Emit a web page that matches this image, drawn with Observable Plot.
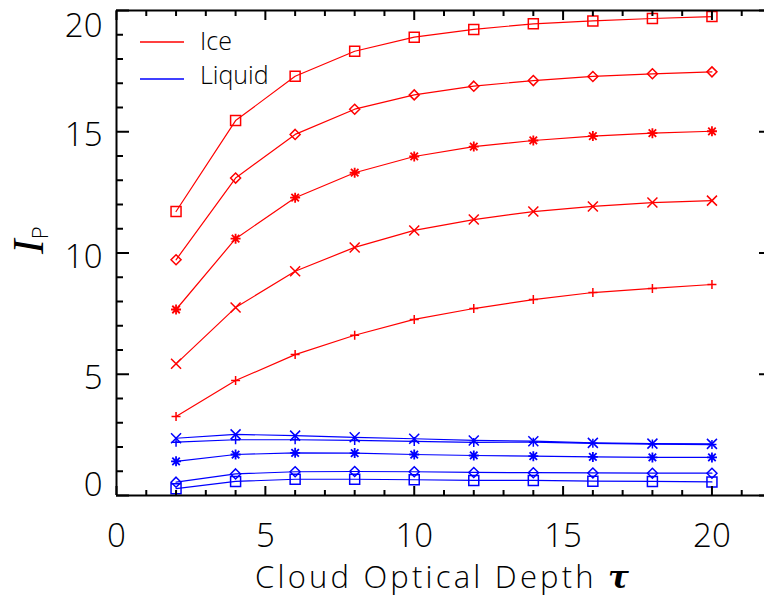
<!DOCTYPE html>
<html><head><meta charset="utf-8">
<script src="https://cdn.jsdelivr.net/npm/d3@7"></script>
<script src="https://cdn.jsdelivr.net/npm/@observablehq/plot@0.6"></script>
<style>
body{margin:0;background:#fff;}
#wrap{position:relative;width:764px;height:599px;overflow:hidden;}
</style></head><body><div id="wrap"></div>
<script>
// ---- data ----
const tau = [2, 4, 6, 8, 10, 12, 14, 16, 18, 20];
const iceSquare   = [11.71, 15.46, 17.29, 18.32, 18.90, 19.22, 19.45, 19.57, 19.67, 19.75];
const iceDiamond  = [9.72, 13.09, 14.89, 15.93, 16.52, 16.88, 17.11, 17.28, 17.39, 17.47];
const iceAsterisk = [7.67, 10.59, 12.28, 13.31, 13.98, 14.39, 14.64, 14.82, 14.94, 15.02];
const iceX        = [5.43, 7.75, 9.25, 10.23, 10.93, 11.38, 11.71, 11.92, 12.08, 12.16];
const icePlus     = [3.26, 4.74, 5.81, 6.61, 7.26, 7.71, 8.08, 8.37, 8.54, 8.70];
const liqX        = [2.36, 2.52, 2.47, 2.40, 2.34, 2.27, 2.24, 2.17, 2.14, 2.13];
const liqPlus     = [2.20, 2.30, 2.30, 2.27, 2.23, 2.19, 2.20, 2.15, 2.12, 2.10];
const liqAsterisk = [1.41, 1.69, 1.76, 1.75, 1.69, 1.65, 1.62, 1.59, 1.57, 1.57];
const liqDiamond  = [0.55, 0.89, 0.98, 0.99, 0.98, 0.95, 0.94, 0.93, 0.92, 0.92];
const liqSquare   = [0.28, 0.58, 0.67, 0.67, 0.65, 0.62, 0.62, 0.59, 0.58, 0.56];
const xMajor = [0, 5, 10, 15, 20];
const xMinor = [1,2,3,4,6,7,8,9,11,12,13,14,16,17,18,19,21];
const yMajor = [0, 5, 10, 15, 20];
const yMinor = [1,2,3,4,6,7,8,9,11,12,13,14,16,17,18,19];
const legendLabels = ["Ice", "Liquid"];
const legendColors = ["#ff0000", "#0000ff"];
const xTitle = "Cloud Optical Depth";
const xTitleSymbol = "\u03c4";
const yTitle = "I";
const yTitleSub = "P";

// ---- symbols (IDL-like) ----
const hs = s => Math.sqrt(s / Math.PI);
const sym = {
  square: {draw(c, s) { const h = hs(s); c.moveTo(-h,-h); c.lineTo(h,-h); c.lineTo(h,h); c.lineTo(-h,h); c.closePath(); }},
  diamond: {draw(c, s) { const h = hs(s); c.moveTo(0,-h); c.lineTo(h,0); c.lineTo(0,h); c.lineTo(-h,0); c.closePath(); }},
  plus: {draw(c, s) { const h = hs(s); c.moveTo(-h,0); c.lineTo(h,0); c.moveTo(0,-h); c.lineTo(0,h); }},
  times: {draw(c, s) { const h = hs(s); c.moveTo(-h,-h); c.lineTo(h,h); c.moveTo(-h,h); c.lineTo(h,-h); }},
  asterisk: {draw(c, s) { const h = hs(s), d = h * 0.75; c.moveTo(-h,0); c.lineTo(h,0); c.moveTo(0,-h); c.lineTo(0,h); c.moveTo(-d,-d); c.lineTo(d,d); c.moveTo(-d,d); c.lineTo(d,-d); }}
};

const seriesList = [
  {values: iceSquare, marker: "square", r: 5, color: legendColors[0]},
  {values: iceDiamond, marker: "diamond", r: 5, color: legendColors[0]},
  {values: iceAsterisk, marker: "asterisk", r: 5, color: legendColors[0]},
  {values: iceX, marker: "times", r: 5, color: legendColors[0]},
  {values: icePlus, marker: "plus", r: 4.5, color: legendColors[0]},
  {values: liqX, marker: "times", r: 5, color: legendColors[1]},
  {values: liqPlus, marker: "plus", r: 4.5, color: legendColors[1]},
  {values: liqAsterisk, marker: "asterisk", r: 5, color: legendColors[1]},
  {values: liqDiamond, marker: "diamond", r: 5, color: legendColors[1]},
  {values: liqSquare, marker: "square", r: 5, color: legendColors[1]}
];

const FONT = "'Open Sans', sans-serif";
const dataMarks = seriesList.flatMap(s => {
  const rows = tau.map((t, i) => ({tau: t, v: s.values[i]}));
  return [
    Plot.line(rows, {x: "tau", y: "v", stroke: s.color, strokeWidth: 1.2}),
    Plot.dot(rows, {x: "tau", y: "v", symbol: sym[s.marker], r: s.r, stroke: s.color, fill: "none", strokeWidth: s.marker === "asterisk" ? 1.8 : 1.5})
  ];
});

const plot = Plot.plot({
  width: 764, height: 599,
  marginLeft: 116, marginRight: -7, marginTop: 10, marginBottom: 104,
  x: {domain: [0, 22]},
  y: {domain: [0, 20]},
  style: {fontFamily: FONT, fontSize: "33px", color: "black", background: "white"},
  marks: [
    ...dataMarks,
    Plot.ruleX([0, 22], {strokeWidth: 2}),
    Plot.ruleY([0, 20], {strokeWidth: 2}),
    Plot.axisX(xMajor, {anchor: "bottom", tickSize: -9, fill: "none", strokeWidth: 2}),
    Plot.axisX(xMinor, {anchor: "bottom", tickSize: -5, fill: "none", strokeWidth: 2}),
    Plot.axisX(xMajor, {anchor: "top", tickSize: -9, fill: "none", strokeWidth: 2}),
    Plot.axisX(xMinor, {anchor: "top", tickSize: -5, fill: "none", strokeWidth: 2}),
    Plot.axisY(yMajor, {anchor: "left", tickSize: -13, fill: "none", strokeWidth: 2}),
    Plot.axisY(yMinor, {anchor: "left", tickSize: -7, fill: "none", strokeWidth: 2}),
    Plot.axisY(yMajor, {anchor: "right", tickSize: -13, fill: "none", strokeWidth: 2}),
    Plot.axisY(yMinor, {anchor: "right", tickSize: -7, fill: "none", strokeWidth: 2}),
    Plot.axisX(xMajor, {anchor: "bottom", tickSize: 0, tickPadding: 28, label: null, fontSize: 33, fontWeight: 300}),
    Plot.axisY(yMajor.filter(d => d > 0 && d < 20), {anchor: "left", tickSize: 0, tickPadding: 14, dy: 4, label: null, fontSize: 33, fontWeight: 300}),
    Plot.axisY([20], {anchor: "left", tickSize: 0, tickPadding: 14, dy: 16, label: null, fontSize: 33, fontWeight: 300}),
    Plot.axisY([0], {anchor: "left", tickSize: 0, tickPadding: 14, dy: -10, label: null, fontSize: 33, fontWeight: 300}),
    Plot.text([xTitle], {frameAnchor: "bottom", text: d => d, dy: 92, dx: -2, fontSize: 31, fontWeight: 300}),
    Plot.text([yTitle], {frameAnchor: "left", text: d => d, rotate: -90, dx: -88, dy: 1, fontSize: 44})
  ]
});

const svg = d3.select(plot);
const findText = s => svg.selectAll("text").filter(function() { return this.textContent === s; });
// x title with italic tau
findText(xTitle).each(function() {
  const t = d3.select(this); t.text(null);
  t.append("tspan").attr("letter-spacing", "3.2px").text(xTitle + " ");
  t.append("tspan").attr("font-family", "'DejaVu Serif', serif").attr("font-style", "italic").attr("font-weight", "bold").text(xTitleSymbol);
});
// y title I with subscript P
findText(yTitle).each(function() {
  const t = d3.select(this); t.text(null);
  t.append("tspan").attr("font-family", "'Liberation Serif', serif").attr("font-style", "italic").text(yTitle);
  t.append("tspan").attr("font-family", FONT).attr("font-size", 22).attr("font-weight", 300).attr("dy", 5).text(yTitleSub);
});
// legend inside plot area
const lg = svg.append("g").attr("aria-label", "legend");
legendLabels.forEach((lab, i) => {
  const y = 42 + i * 37;
  lg.append("line").attr("x1", 140).attr("x2", 184).attr("y1", y).attr("y2", y).attr("stroke", legendColors[i]).attr("stroke-width", 1.3);
  lg.append("text").attr("x", 200).attr("y", 50 + i * 33.5).attr("text-anchor", "start").attr("font-size", 25).attr("font-weight", 300).attr("font-family", FONT).attr("fill", "black").text(lab);
});
document.getElementById("wrap").appendChild(plot);
</script></body></html>
